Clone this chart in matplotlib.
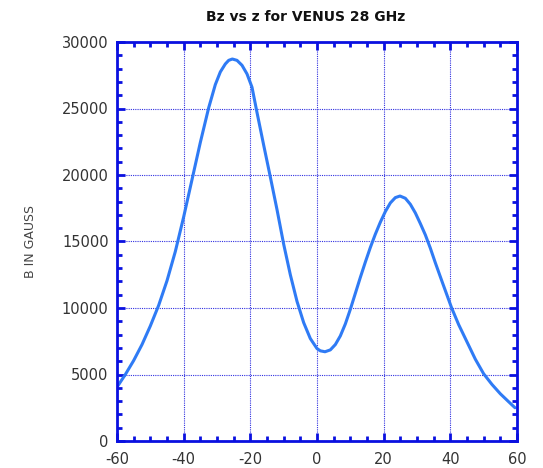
import matplotlib
matplotlib.use("Agg")
import matplotlib.pyplot as plt
from matplotlib.ticker import MultipleLocator

plt.rcParams["axes.unicode_minus"] = False

z = [-60, -57.5, -55, -52.5, -50, -47.5, -45, -42.5, -40, -37.5, -35, -32.5, -30.5,
     -29, -27.5, -26.5, -25.4, -24, -22.5, -21, -19.5, -18, -16, -14, -12, -10, -8, -6,
     -4, -2, 0, 1, 2.4, 4, 5.5, 7, 8.5, 10, 11.5, 13, 14.5, 16, 17.5, 19, 20.5, 22, 23.5,
     24.9, 26.5, 28, 29.5, 31, 32.5, 34, 35.5, 37.5, 40.4, 42.5, 45, 47.5, 50, 52.5, 55, 57.5, 59.4]
bz = [4050, 5000, 6050, 7250, 8650, 10200, 12050, 14250, 16850, 19650, 22450, 25050, 26800,
      27750, 28350, 28620, 28720, 28620, 28250, 27600, 26600, 24700, 22250, 19850, 17400, 14800, 12500, 10500,
      8900, 7700, 6950, 6780, 6710, 6850, 7250, 7900, 8800, 9900, 11100, 12300, 13450, 14550, 15550, 16450, 17250, 17900, 18300,
      18420, 18250, 17800, 17150, 16350, 15500, 14500, 13400, 12000, 10000, 8750, 7450, 6150, 5050, 4250, 3550, 2950, 2500]

title = "Bz vs z for VENUS 28 GHz"
ylabel = "B IN GAUSS"

fig = plt.figure(figsize=(5.43, 4.68), dpi=100)
ax = fig.add_axes([117/543, 1-441/468, 400/543, 399/468])

spine_c = "#0a10e0"
ax.plot(z, bz, color="#2f7bf5", lw=2.2, solid_capstyle="round", solid_joinstyle="round")

ax.set_xlim(-60, 60)
ax.set_ylim(0, 30000)
ax.xaxis.set_major_locator(MultipleLocator(20))
ax.xaxis.set_minor_locator(MultipleLocator(5))
ax.yaxis.set_major_locator(MultipleLocator(5000))
ax.yaxis.set_minor_locator(MultipleLocator(1000))

ax.grid(True, which="major", color="#3030e0", linestyle=(0, (1, 1)), linewidth=0.8)
for s in ax.spines.values():
    s.set_color(spine_c)
    s.set_linewidth(2)

ax.tick_params(which="both", direction="in", top=True, right=True, color=spine_c,
               width=2, labelsize=10.5, labelcolor="#333333")
ax.tick_params(which="major", length=6)
ax.tick_params(which="minor", length=3.5)
ax.tick_params(axis="x", which="major", pad=8)
ax.tick_params(axis="y", which="major", pad=6)

ax.set_ylabel(ylabel, fontsize=9, color="#444444", labelpad=18)
fig.text(306/543, 1-17/468, title, ha="center", va="center", fontsize=10,
         fontweight="bold", color="#111111")

fig.savefig("out.png", dpi=100)
